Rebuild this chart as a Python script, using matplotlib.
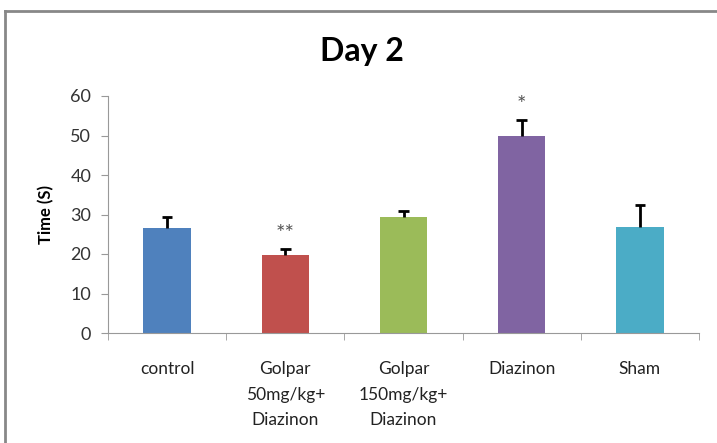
import matplotlib.pyplot as plt
import numpy as np
from matplotlib.lines import Line2D

plt.rcParams['font.family'] = ['Lato', 'DejaVu Sans']

groups = ['control', 'Golpar\n50mg/kg+\nDiazinon', 'Golpar\n150mg/kg+\nDiazinon', 'Diazinon', 'Sham']
means = [26.7, 19.8, 29.4, 49.8, 26.9]
errors = [2.7, 1.5, 1.5, 4.0, 5.6]
stars = ['', '**', '', '*', '']
colors = ['#4F81BD', '#C0504D', '#9BBB59', '#8064A2', '#4BACC6']

fig = plt.figure(figsize=(7.17, 4.43), dpi=100)
ax = fig.add_axes([108 / 717, 110 / 443, 591 / 717, 237 / 443])

x = np.arange(len(groups))
means = np.array(means)
errors = np.array(errors)
ax.bar(x, means, width=0.4, color=colors, zorder=2)

# upper error bars only
tops = means + errors
ax.vlines(x, means, tops, color='black', linewidth=2, zorder=3)
ax.hlines(tops, x - 0.045, x + 0.045, color='black', linewidth=2, zorder=3)

for xi, t, s in zip(x, tops, stars):
    if s:
        ax.text(xi, t + 1.3, s, ha='center', va='bottom',
                fontsize=16, color='#555555')

ax.set_xlim(-0.5, len(groups) - 0.5)
ax.set_ylim(0, 60)
ax.set_yticks(range(0, 61, 10))
ax.set_xticks(x)
ax.set_xticklabels(groups, fontsize=12.5, color='#222222', linespacing=1.75)
ax.set_xticks(np.arange(-0.5, len(groups), 1), minor=True)
ax.tick_params(axis='x', which='major', length=0, pad=20)
ax.tick_params(axis='x', which='minor', length=5, color='#999999', direction='out')
ax.tick_params(axis='y', length=5, color='#999999', labelsize=13,
               labelcolor='#333333', pad=7)

for side in ['top', 'right']:
    ax.spines[side].set_visible(False)
ax.spines['left'].set_color('#999999')
ax.spines['bottom'].set_color('#999999')

ax.set_ylabel('Time (S)', fontsize=12, fontweight='bold', labelpad=12)
fig.text(362 / 717, 1 - 51 / 443, 'Day 2', ha='center', va='center',
         fontsize=23, fontweight='bold')

# chart frame, left and top edges only
fig.add_artist(Line2D([5 / 717, 5 / 717], [0, 1 - 11 / 443], transform=fig.transFigure,
                      color='#888888', linewidth=2))
fig.add_artist(Line2D([5 / 717, 1], [1 - 11 / 443, 1 - 11 / 443], transform=fig.transFigure,
                      color='#888888', linewidth=2))

fig.savefig('out.png', dpi=100)
